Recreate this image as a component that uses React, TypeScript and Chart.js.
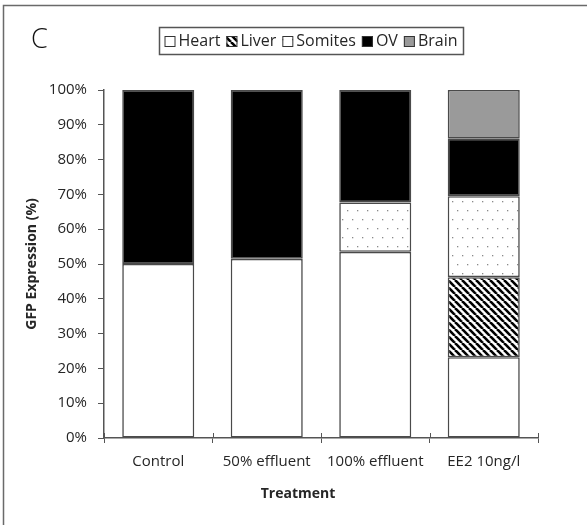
import React, { useEffect, useRef } from 'react';
import { Chart, registerables } from 'chart.js';

Chart.register(...registerables);

const categories = ['Control', '50% effluent', '100% effluent', 'EE2 10ng/l'];
const heart = [50, 51.5, 53.5, 23.2];
const liver = [null, null, null, 23];
const somites = [null, null, 14.2, 23.3];
const ov = [50, 48.5, 32.3, 16.5];
const brain = [null, null, null, 14];
const seriesNames = ['Heart', 'Liver', 'Somites', 'OV', 'Brain'];

const FONT = '"Open Sans", "DejaVu Sans", sans-serif';
const TEXT = '#262626';
const EDGE = '#4a4a4a';

function stripePattern(ctx: CanvasRenderingContext2D) {
  const s = 7;
  const c = document.createElement('canvas');
  c.width = s;
  c.height = s;
  const g = c.getContext('2d')!;
  g.fillStyle = '#ffffff';
  g.fillRect(0, 0, s, s);
  g.strokeStyle = '#000000';
  g.lineWidth = 2.6;
  for (let k = -1; k <= 1; k++) {
    g.beginPath();
    g.moveTo(k * s, 0);
    g.lineTo(k * s + s, s);
    g.stroke();
  }
  return ctx.createPattern(c, 'repeat')!;
}

function dotPattern(ctx: CanvasRenderingContext2D) {
  const w = 10;
  const h = 18;
  const c = document.createElement('canvas');
  c.width = w;
  c.height = h;
  const g = c.getContext('2d')!;
  g.fillStyle = '#ffffff';
  g.fillRect(0, 0, w, h);
  g.fillStyle = '#8a8a8a';
  g.fillRect(2, 3, 1.3, 1.3);
  g.fillRect(7, 12, 1.3, 1.3);
  return ctx.createPattern(c, 'repeat')!;
}

const decorPlugin = {
  id: 'decor',
  afterDraw(chart: any) {
    const ctx: CanvasRenderingContext2D = chart.ctx;
    const area = chart.chartArea;
    ctx.save();
    // outer frame (top & left)
    ctx.strokeStyle = '#6a6a6a';
    ctx.lineWidth = 1.5;
    ctx.beginPath();
    ctx.moveTo(3.5, chart.height);
    ctx.lineTo(3.5, 5.5);
    ctx.lineTo(chart.width, 5.5);
    ctx.stroke();

    // panel letter
    ctx.fillStyle = '#111';
    ctx.font = `300 27px ${FONT}`;
    ctx.textAlign = 'left';
    ctx.textBaseline = 'alphabetic';
    ctx.fillText('C', 31, 48);

    // x tick marks extending upward across axis
    const xs = chart.scales.x;
    const n = xs.ticks.length;
    const step = (area.right - area.left) / n;
    ctx.strokeStyle = '#555';
    ctx.lineWidth = 1;
    for (let i = 0; i <= n; i++) {
      const x = Math.round(area.left + i * step) + 0.5;
      ctx.beginPath();
      ctx.moveTo(x, area.bottom - 5);
      ctx.lineTo(x, area.bottom);
      ctx.stroke();
    }

    // axis titles
    ctx.fillStyle = TEXT;
    ctx.font = `bold 14px ${FONT}`;
    ctx.textAlign = 'center';
    ctx.textBaseline = 'middle';
    ctx.fillText('Treatment', 298, 494);
    ctx.save();
    ctx.translate(32, (area.top + area.bottom) / 2);
    ctx.rotate(-Math.PI / 2);
    ctx.fillText('GFP Expression (%)', 0, 0);
    ctx.restore();

    // legend
    const ds = chart.data.datasets;
    ctx.font = `16px ${FONT}`;
    const box = 11;
    const gapBox = 3;
    const gapItem = 6;
    let total = 0;
    const widths = ds.map((d: any) => ctx.measureText(d.label).width);
    widths.forEach((w: number, i: number) => {
      total += box + gapBox + w + (i < widths.length - 1 ? gapItem : 0);
    });
    const cx = 311;
    const cy = 40.5;
    const left = 159;
    const right = 463;
    ctx.strokeStyle = '#555';
    ctx.lineWidth = 1.5;
    ctx.strokeRect(left + 0.5, 27.5, right - left, 27);
    let x = cx - total / 2;
    ctx.textAlign = 'left';
    ctx.textBaseline = 'middle';
    ds.forEach((d: any, i: number) => {
      ctx.fillStyle = d.backgroundColor;
      ctx.fillRect(x, cy - box / 2 + 1, box, box);
      ctx.strokeStyle = '#333';
      ctx.lineWidth = 1;
      ctx.strokeRect(x + 0.5, cy - box / 2 + 1.5, box - 1, box - 1);
      x += box + gapBox;
      ctx.fillStyle = TEXT;
      ctx.fillText(d.label, x, cy + 1);
      x += widths[i] + gapItem;
    });
    ctx.restore();
  },
};

export default function App() {
  const ref = useRef<HTMLCanvasElement | null>(null);

  useEffect(() => {
    document.body.style.margin = '0';
    const canvas = ref.current!;
    const ctx = canvas.getContext('2d')!;
    const stripes = stripePattern(ctx);
    const dots = dotPattern(ctx);
    const fills = ['#ffffff', stripes, dots, '#000000', '#9a9a9a'];
    const values = [heart, liver, somites, ov, brain];

    const chart = new Chart(canvas, {
      type: 'bar',
      data: {
        labels: categories,
        datasets: seriesNames.map((name, i) => ({
          label: name,
          data: values[i] as any,
          backgroundColor: fills[i] as any,
          borderColor: EDGE,
          borderWidth: 1.6,
          borderSkipped: false,
          barPercentage: 0.664,
          categoryPercentage: 1,
        })),
      },
      options: {
        animation: false,
        responsive: false,
        maintainAspectRatio: false,
        layout: { padding: { top: 90, right: 49, left: 0, bottom: 0 } },
        plugins: {
          legend: { display: false },
          tooltip: { enabled: false },
          title: { display: false },
        },
        scales: {
          x: {
            stacked: true,
            grid: {
              drawOnChartArea: false,
              drawTicks: true,
              tickLength: 5,
              color: '#555',
            },
            border: { display: true, color: '#555', width: 1.5 },
            ticks: {
              color: TEXT,
              font: { family: FONT, size: 15 },
              padding: 10,
              maxRotation: 0,
            },
            afterFit: (s: any) => {
              s.height = 525 - 438;
            },
          },
          y: {
            stacked: true,
            min: 0,
            max: 100,
            grid: {
              drawOnChartArea: false,
              drawTicks: true,
              tickLength: 6,
              color: '#555',
            },
            border: { display: true, color: '#555', width: 1.5 },
            ticks: {
              stepSize: 10,
              color: TEXT,
              font: { family: FONT, size: 15 },
              padding: 11,
              callback: (v: any) => `${v}%`,
            },
            afterFit: (s: any) => {
              s.width = 104;
            },
          },
        },
      },
      plugins: [decorPlugin],
    });
    return () => chart.destroy();
  }, []);

  return (
    <div style={{ width: 587, height: 525, background: '#fff' }}>
      <canvas ref={ref} width={587} height={525} style={{ display: 'block' }} />
    </div>
  );
}
